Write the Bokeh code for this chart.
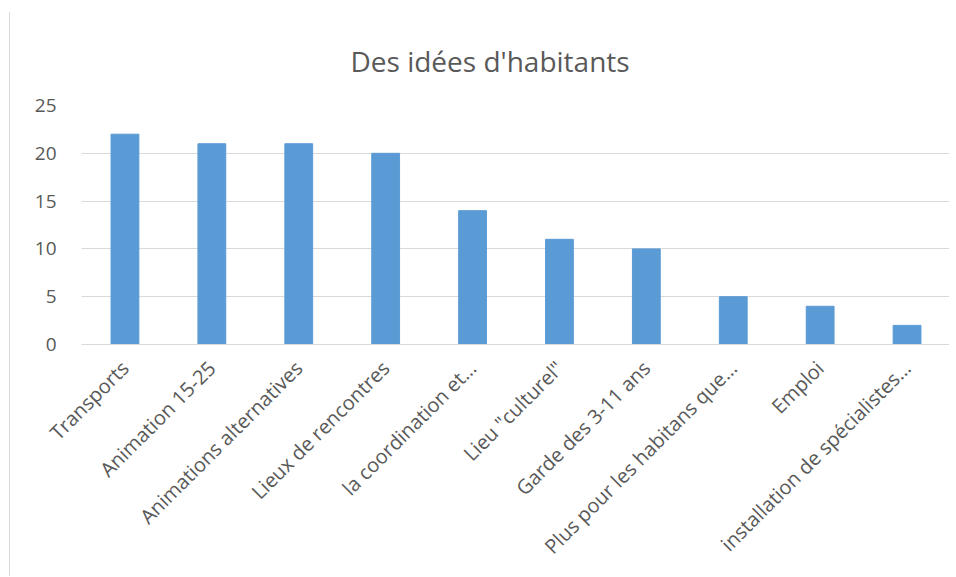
from bokeh.plotting import figure
from bokeh.models import Range1d, FixedTicker, Title, ColumnDataSource
from bokeh.embed import file_html
from bokeh.resources import INLINE
import math

categories = ["Transports", "Animation 15-25", "Animations alternatives", "Lieux de rencontres",
              "la coordination et…", "Lieu \"culturel\"", "Garde des 3-11 ans",
              "Plus pour les habitans que…", "Emploi", "installation de spécialistes…"]
values = [22, 21, 21, 20, 14, 11, 10, 5, 4, 2]
y_ticks = [0, 5, 10, 15, 20, 25]
title_text = "Des idées d'habitants"

FONT = "Open Sans"
GRAY = "#595959"
GRID = "#d9d9d9"
BAR = "#5b9bd5"

xs = list(range(len(categories)))
src = ColumnDataSource(dict(x=xs, top=values))

p = figure(width=940, height=564, output_backend="svg", toolbar_location=None,
           x_range=Range1d(-0.5, len(categories) - 0.5), y_range=Range1d(0, 25),
           min_border_left=71, min_border_right=0, min_border_top=93, min_border_bottom=232,
           styles={"margin-left": "9px", "margin-top": "12px",
                   "border-left": "1px solid #d9d9d9"})
p.outline_line_color = None
p.background_fill_color = "white"
p.border_fill_color = "white"

p.vbar(x="x", top="top", width=0.32, source=src, color=BAR)

p.xaxis.ticker = FixedTicker(ticks=xs)
p.xaxis.major_label_overrides = {i: c for i, c in enumerate(categories)}
p.xaxis.major_label_orientation = math.pi / 4
p.xaxis.major_label_text_font = FONT
p.xaxis.major_label_text_font_size = "20px"
p.xaxis.major_label_text_color = GRAY
p.xaxis.major_label_standoff = 14
p.xaxis.axis_line_color = GRID
p.xaxis.major_tick_line_color = None
p.xaxis.minor_tick_line_color = None
p.xgrid.grid_line_color = None

p.yaxis.ticker = FixedTicker(ticks=y_ticks)
p.yaxis.major_label_text_font = FONT
p.yaxis.major_label_text_font_size = "19px"
p.yaxis.major_label_text_color = GRAY
p.yaxis.major_label_standoff = 19
p.yaxis.axis_line_color = None
p.yaxis.major_tick_line_color = None
p.yaxis.minor_tick_line_color = None
p.ygrid.grid_line_color = GRID
p.ygrid.ticker = FixedTicker(ticks=y_ticks)

title = Title(text=title_text, align="left", offset=269, standoff=51, text_font=FONT,
              text_font_size="28px", text_color=GRAY, text_font_style="normal")
p.add_layout(title, "above")

open("out.html", "w").write(file_html(p, INLINE))
